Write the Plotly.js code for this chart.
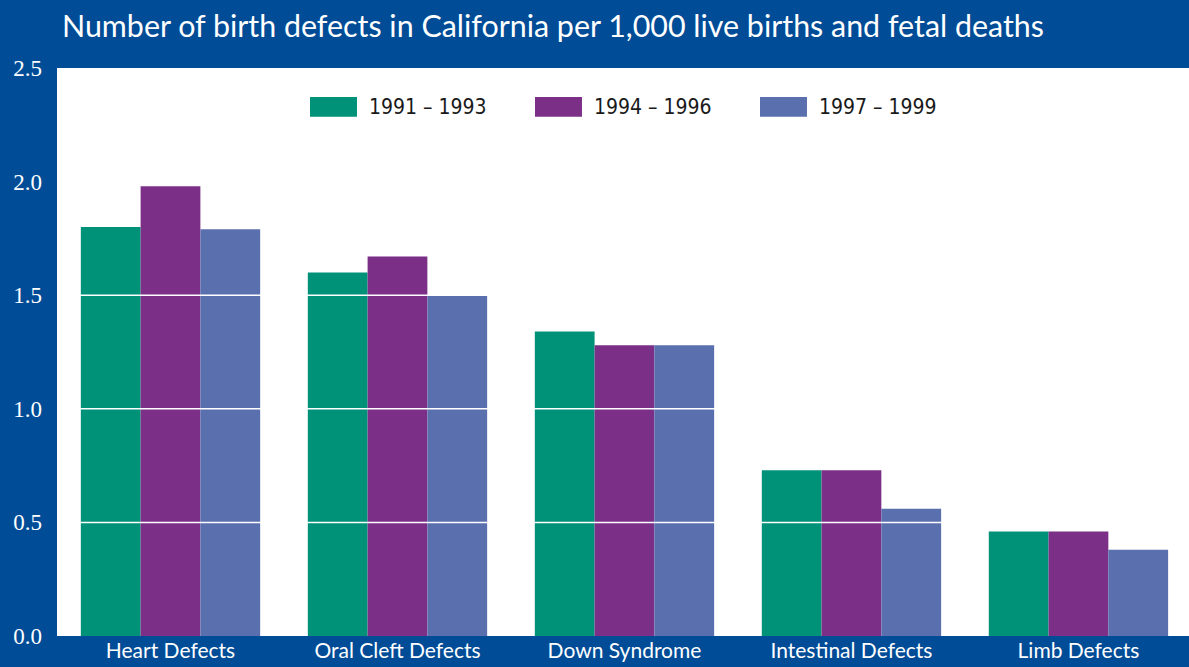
<!DOCTYPE html>
<html>
<head>
<meta charset="utf-8">
<script src="https://cdn.plot.ly/plotly-3.0.1.min.js"></script>
<style>html,body{margin:0;padding:0;background:#004C97;}#chart{width:1189px;height:667px;}</style>
</head>
<body>
<div id="chart"></div>
<script>
var categories = ["Heart Defects", "Oral Cleft Defects", "Down Syndrome", "Intestinal Defects", "Limb Defects"];
var seriesNames = ["1991 – 1993", "1994 – 1996", "1997 – 1999"];
var values1991 = [1.80, 1.60, 1.34, 0.73, 0.46];
var values1994 = [1.98, 1.67, 1.28, 0.73, 0.46];
var values1997 = [1.79, 1.50, 1.28, 0.56, 0.38];
var yTicks = [0, 0.5, 1.0, 1.5, 2.0, 2.5];
var yTickLabels = ["0.0", "0.5", "1.0", "1.5", "2.0", "2.5"];

var colors = ["#009179", "#7B2F87", "#5A6FAE"];
var allValues = [values1991, values1994, values1997];

var traces = allValues.map(function (vals, i) {
  return {
    type: "bar", x: categories, y: vals, name: seriesNames[i],
    marker: {color: colors[i], line: {width: 0}},
    hoverinfo: "y"
  };
});

// white gridlines drawn over the bars
var shapes = yTicks.filter(function (t) { return t > 0 && t < 2.5; }).map(function (t) {
  return {type: "line", xref: "paper", x0: 0, x1: 1, yref: "y", y0: t, y1: t,
          line: {color: "#ffffff", width: 1.5}, layer: "above"};
});

// custom legend: wide rectangular swatches + labels
var annotations = [];
var legX0 = 0.2235, legStep = 0.19876, swW = 0.0415;
seriesNames.forEach(function (nm, i) {
  var x0 = legX0 + i * legStep;
  shapes.push({type: "rect", xref: "paper", yref: "paper",
               x0: x0, x1: x0 + swW, y0: 0.914, y1: 0.949,
               fillcolor: colors[i], line: {width: 0}, layer: "above"});
  annotations.push({xref: "paper", yref: "paper", x: x0 + swW + 0.0085, y: 0.9315,
                    xanchor: "left", yanchor: "middle", showarrow: false, text: nm,
                    font: {family: "'Liberation Sans Narrow', 'DejaVu Sans Condensed', sans-serif", size: 21, color: "#1a1a1a"}});
});

var layout = {
  width: 1189, height: 667,
  margin: {l: 57, r: 0, t: 68, b: 31, pad: 0},
  paper_bgcolor: "#004C97",
  plot_bgcolor: "#ffffff",
  title: {
    text: "Number of birth defects in California per 1,000 live births and fetal deaths",
    font: {family: "Lato, 'Open Sans', sans-serif", size: 30.4, color: "#ffffff"},
    x: 0, xref: "paper", xanchor: "left", y: 0.96, yref: "container", yanchor: "middle",
    pad: {l: 5}
  },
  barmode: "group",
  bargap: 0.21,
  bargroupgap: 0,
  showlegend: false,
  xaxis: {
    type: "category",
    range: [-0.5, 4.487],
    showgrid: false, zeroline: false, showline: false, ticks: "",
    tickfont: {family: "Lato, 'Open Sans', sans-serif", size: 21, color: "#ffffff"},
    fixedrange: true
  },
  yaxis: {
    range: [0, 2.5],
    tickmode: "array", tickvals: yTicks, ticktext: yTickLabels,
    showgrid: false, zeroline: false, showline: false, ticks: "",
    ticklabelstandoff: 14,
    tickfont: {family: "'Liberation Serif', serif", size: 23, color: "#ffffff"},
    fixedrange: true
  },
  shapes: shapes,
  annotations: annotations
};

Plotly.newPlot("chart", traces, layout, {displayModeBar: false, staticPlot: true});
</script>
</body>
</html>
